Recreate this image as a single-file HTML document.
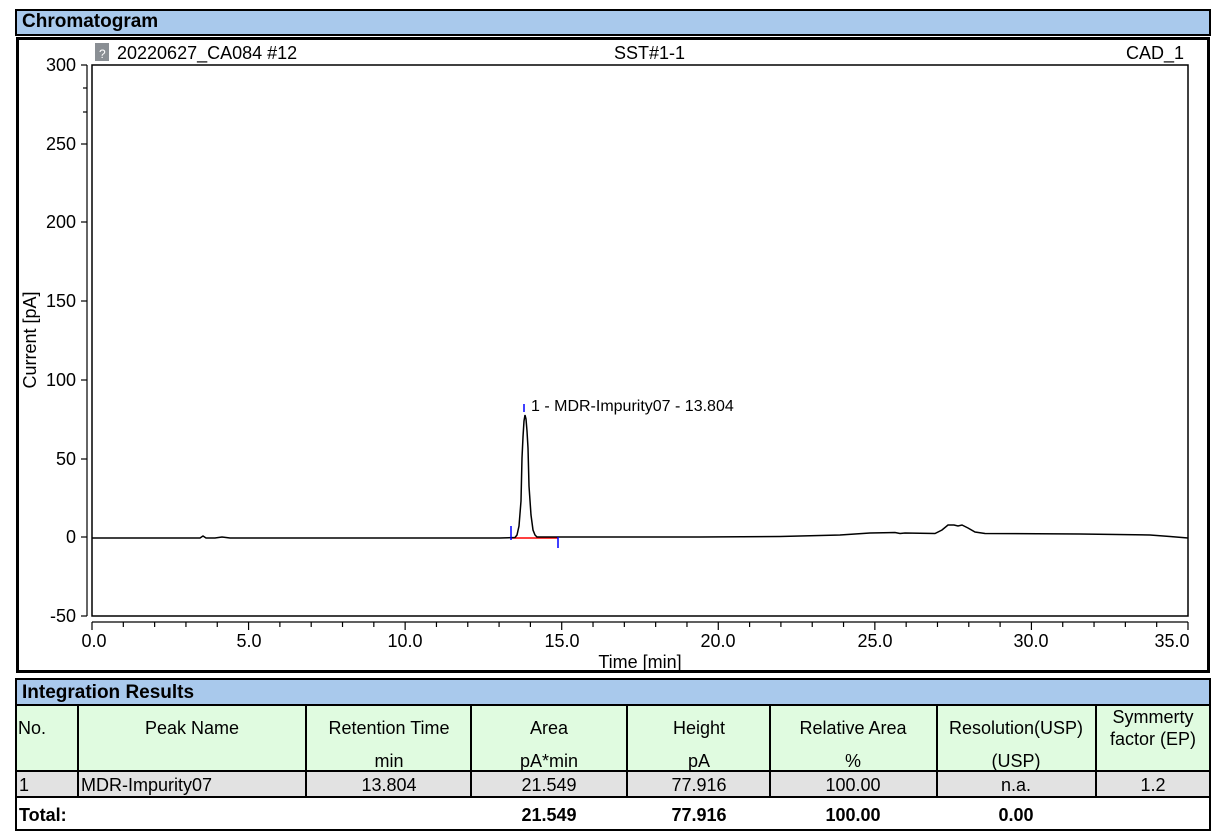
<!DOCTYPE html>
<html><head><meta charset="utf-8"><style>
body{margin:0;width:1218px;height:838px;background:#fff;position:relative;font-family:"Liberation Sans",Arial,sans-serif;overflow:hidden}
.bar{position:absolute;background:#a9c9ec;border:2px solid #000;font-weight:bold;font-size:19px;padding-left:5px;box-sizing:border-box;line-height:22px}
</style></head><body>
<div class="bar" style="left:15px;top:9px;width:1196px;height:27px">Chromatogram</div>
<div style="position:absolute;left:16px;top:37px;width:1194px;height:636px;border:3px solid #000;box-sizing:border-box"></div>
<div class="bar" style="left:15px;top:678px;width:1196px;height:28px;line-height:26px">Integration Results</div>
<svg width="1218" height="838" style="position:absolute;left:0;top:0" font-family="Liberation Sans, Arial, sans-serif">
<rect x="92" y="65" width="1096" height="551" fill="none" stroke="#000" stroke-width="1.5"/>
<rect x="95" y="43" width="14" height="18" fill="#8a8f94"/><text x="99" y="58" font-size="12" fill="#fff">?</text>
<text x="117" y="59" font-size="18">20220627_CA084 #12</text>
<text x="614" y="59" font-size="18">SST#1-1</text>
<text x="1126" y="59" font-size="18">CAD_1</text>
<g stroke="#000" stroke-width="1.2">
<line x1="87" y1="65" x2="87" y2="616"/>
<line x1="81" y1="65" x2="87" y2="65"/><line x1="81" y1="144" x2="87" y2="144"/><line x1="81" y1="222" x2="87" y2="222"/><line x1="81" y1="301" x2="87" y2="301"/><line x1="81" y1="380" x2="87" y2="380"/><line x1="81" y1="459" x2="87" y2="459"/><line x1="81" y1="537" x2="87" y2="537"/><line x1="81" y1="616" x2="87" y2="616"/>
<line x1="83" y1="88" x2="87" y2="88"/><line x1="83" y1="112" x2="87" y2="112"/>
<line x1="92" y1="622" x2="1188" y2="622"/>
</g>
<g font-size="18" text-anchor="end">
<text x="76" y="71">300</text><text x="76" y="150">250</text><text x="76" y="228">200</text><text x="76" y="307">150</text><text x="76" y="386">100</text><text x="76" y="465">50</text><text x="76" y="543">0</text><text x="76" y="622">-50</text>
</g>
<text x="36" y="340" font-size="18" text-anchor="middle" transform="rotate(-90 36 340)">Current [pA]</text>
<g id="xt" stroke="#000" stroke-width="1.2"></g>
<g font-size="18" text-anchor="middle">
<text x="94" y="647">0.0</text><text x="249" y="647">5.0</text><text x="405" y="647">10.0</text><text x="562" y="647">15.0</text><text x="718" y="647">20.0</text><text x="875" y="647">25.0</text><text x="1031" y="647">30.0</text><text x="1172" y="647">35.0</text>
<text x="640" y="668">Time [min]</text>
</g>
<line x1="511" y1="538" x2="558" y2="538" stroke="#f00" stroke-width="1.5"/>
<polyline fill="none" stroke="#000" stroke-width="1.5" points="92,538 200,538 203,536 206,538 215,538 222,537 230,538 400,538 500,538 515,537.5 517,535 519,526 521,501 522,458 523,437 524,421 525,415 526,419 527,431 528,448 529,486 531,515 533,530 535,535 537,537 560,537 700,537 780,536.5 840,535 870,533 895,532.5 900,533.5 905,533 935,533.5 942,530 948,525 954,525 958,526 962,525 968,528 975,532 985,533.5 1080,534 1150,535 1170,536.5 1188,538"/>
<g stroke="#00f" stroke-width="1.5"><line x1="511" y1="526" x2="511" y2="540"/><line x1="558" y1="537" x2="558" y2="548"/><line x1="524" y1="404" x2="524" y2="412"/></g>
<text x="531" y="411" font-size="16">1 - MDR-Impurity07 - 13.804</text>

<!-- table -->
<rect x="16" y="706" width="1194" height="65" fill="#e0fbe0"/>
<rect x="16" y="771" width="1194" height="26" fill="#e2e2e2"/>
<g stroke="#000" stroke-width="2" fill="none">
<rect x="16" y="705" width="1194" height="125"/>
<line x1="16" y1="771" x2="1210" y2="771"/><line x1="16" y1="797" x2="1210" y2="797"/>
<line x1="78" y1="705" x2="78" y2="797"/><line x1="306" y1="705" x2="306" y2="797"/><line x1="471" y1="705" x2="471" y2="797"/><line x1="627" y1="705" x2="627" y2="797"/><line x1="770" y1="705" x2="770" y2="797"/><line x1="937" y1="705" x2="937" y2="797"/><line x1="1096" y1="705" x2="1096" y2="797"/>
</g>
<g font-size="18" text-anchor="middle">
<text x="18" y="734" text-anchor="start">No.</text>
<text x="192" y="734">Peak Name</text>
<text x="389" y="734">Retention Time</text><text x="389" y="767">min</text>
<text x="549" y="734">Area</text><text x="549" y="767">pA*min</text>
<text x="699" y="734">Height</text><text x="699" y="767">pA</text>
<text x="853" y="734">Relative Area</text><text x="853" y="767">%</text>
<text x="1016" y="734">Resolution(USP)</text><text x="1016" y="767">(USP)</text>
<text x="1153" y="723">Symmerty</text><text x="1153" y="745">factor (EP)</text>
<text x="19" y="791" text-anchor="start">1</text>
<text x="81" y="791" text-anchor="start">MDR-Impurity07</text>
<text x="389" y="791">13.804</text><text x="549" y="791">21.549</text><text x="699" y="791">77.916</text><text x="853" y="791">100.00</text><text x="1016" y="791">n.a.</text><text x="1153" y="791">1.2</text>
<g font-weight="bold">
<text x="19" y="821" text-anchor="start">Total:</text>
<text x="549" y="821">21.549</text><text x="699" y="821">77.916</text><text x="853" y="821">100.00</text><text x="1016" y="821">0.00</text>
</g>
</g>
</svg>
<script>
var g=document.getElementById('xt'),s='';
for(var i=0;i<=35;i++){var x=92+i*31.314;var L=(i%5==0)?8:5;s+='<line x1="'+x+'" y1="622" x2="'+x+'" y2="'+(622+L)+'"/>';}
g.innerHTML=s;
</script>
</body></html>
